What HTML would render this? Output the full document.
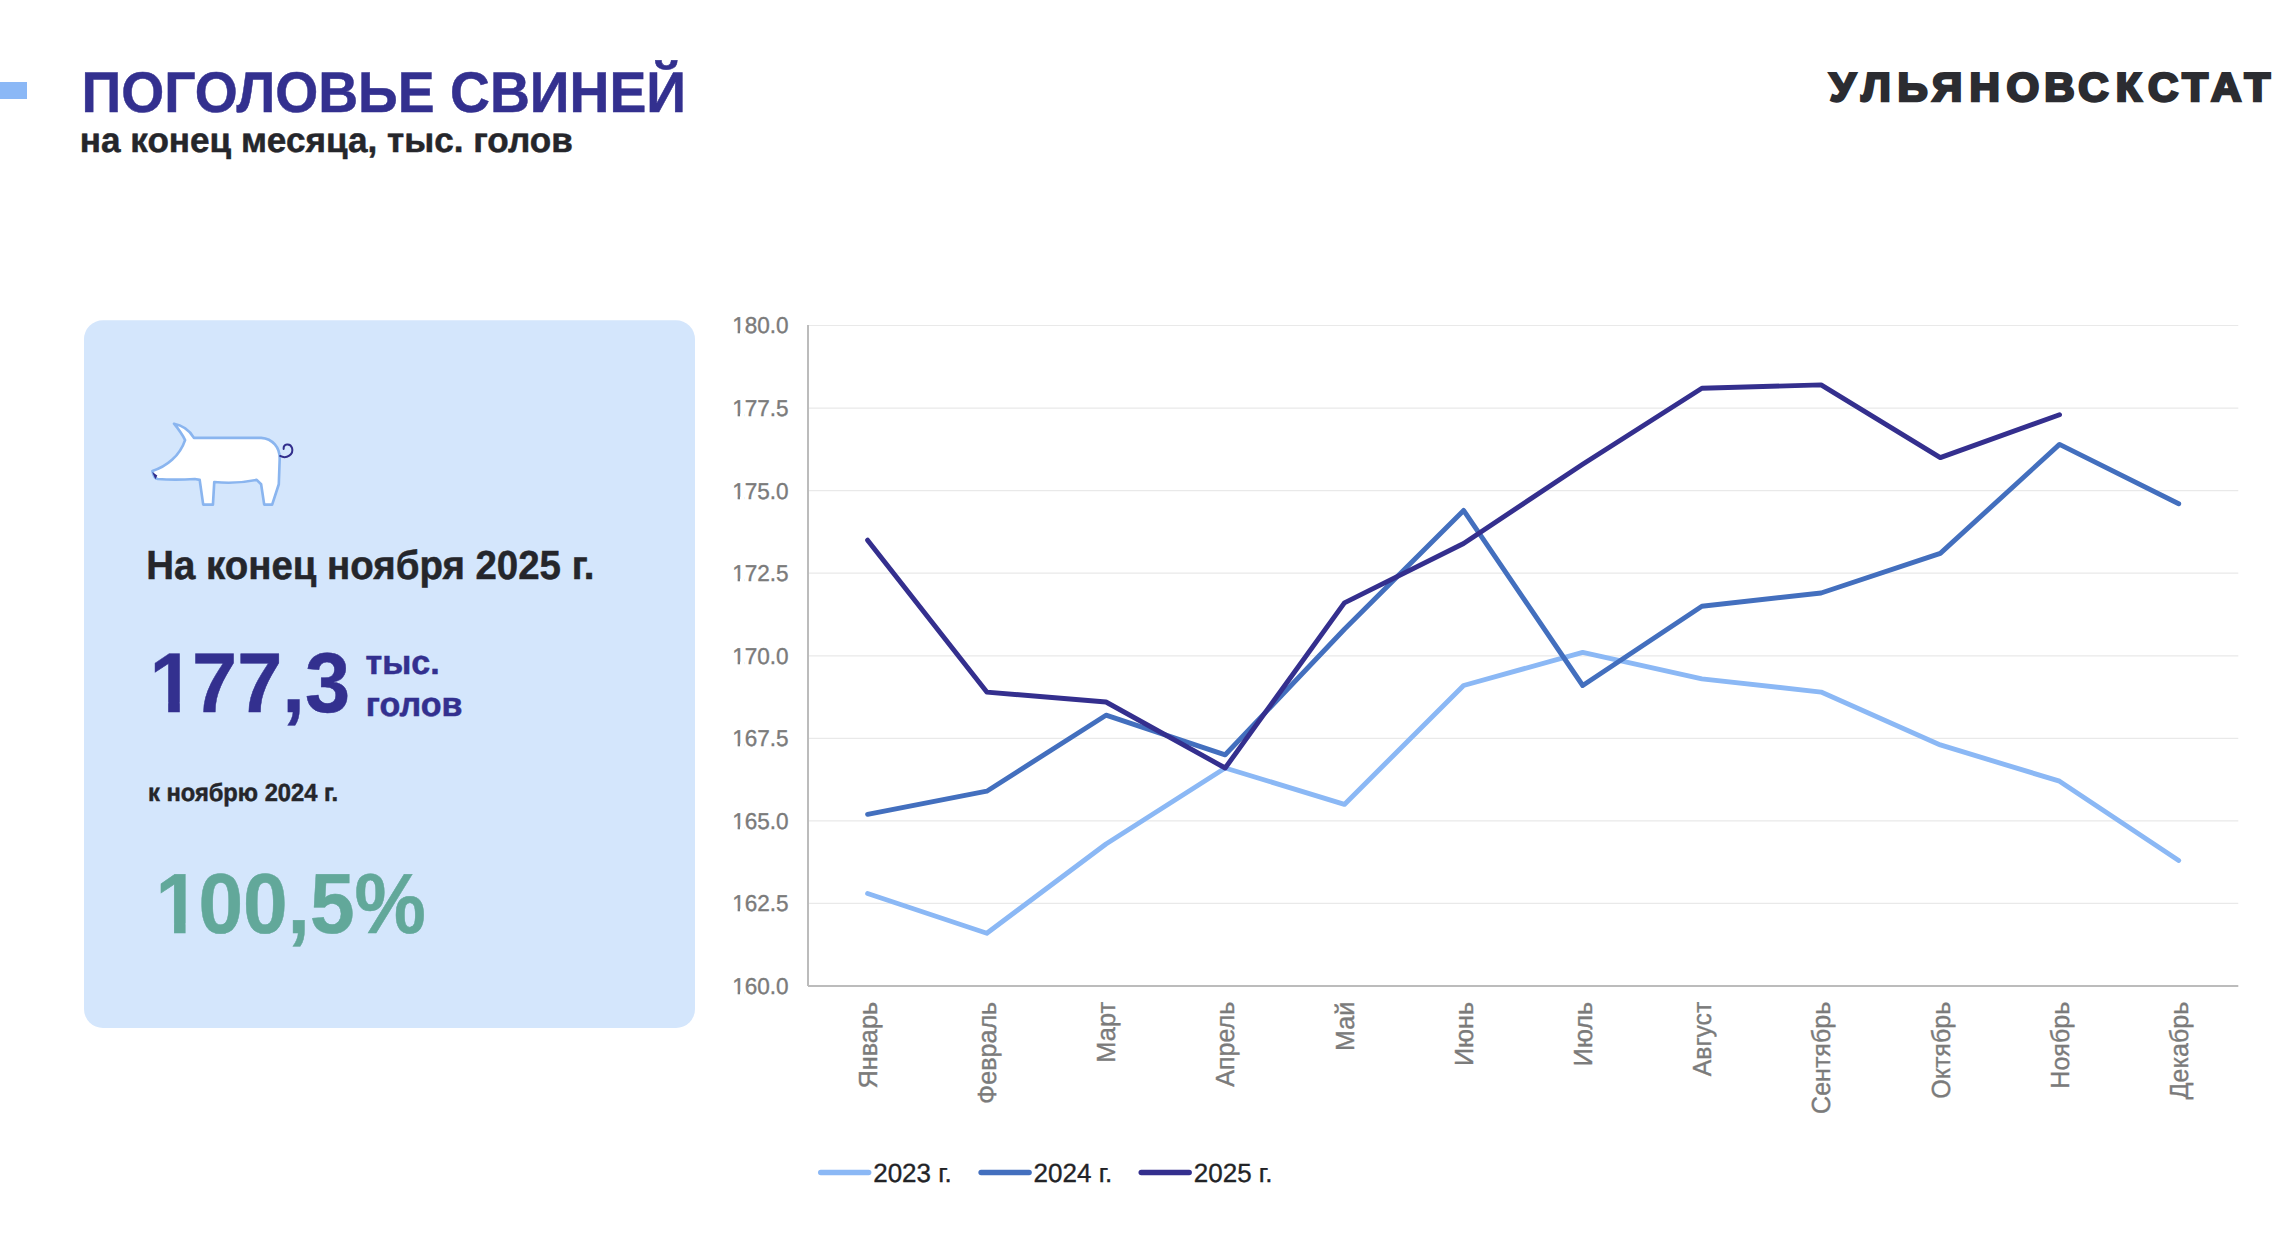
<!DOCTYPE html>
<html lang="ru"><head><meta charset="utf-8"><title>Поголовье свиней</title>
<style>
html,body{margin:0;padding:0;background:#fff;}
body{width:2290px;height:1244px;overflow:hidden;}
svg{display:block;}
text{font-family:"Liberation Sans",sans-serif;white-space:pre;text-rendering:geometricPrecision;}
.b{font-weight:bold;stroke-width:0.5px;}
.ind{fill:#33308f;stroke:#33308f;}
.dk{fill:#25262b;stroke:#25262b;}
.grn{fill:#62a89a;stroke:#62a89a;}
.logo{fill:#2b2c31;stroke:#2b2c31;stroke-width:2.6px;stroke-linejoin:miter;stroke-miterlimit:6;}
.ax{fill:#7b7b7b;stroke:#7b7b7b;stroke-width:0.35px;}
.lg{fill:#222326;stroke:#222326;stroke-width:0.35px;}
</style></head><body>
<svg width="2290" height="1244" viewBox="0 0 2290 1244">
<rect x="0" y="82" width="27" height="17" fill="#8bb8f6"/>
<text class="b ind" x="81.50" y="112.00" font-size="57.3" textLength="604.50" lengthAdjust="spacingAndGlyphs">ПОГОЛОВЬЕ СВИНЕЙ</text>
<text class="b dk" x="79.80" y="152.00" font-size="34.7" textLength="493.00" lengthAdjust="spacingAndGlyphs">на конец месяца, тыс. голов</text>
<text class="b logo" font-size="40.1" stroke-width="2.6" transform="translate(0,100.7) scale(1.05 1)" x="1742.29 1772.71 1807.1 1840.0 1875.62 1910.95 1946.81 1979.24 2014.9 2045.62 2078.24 2105.76 2137.57" y="0">УЛЬЯНОВСКСТАТ</text>
<rect x="84" y="320.3" width="611" height="707.7" rx="19" ry="19" fill="#d4e6fc"/>
<g transform="translate(140,410) scale(0.088404)">
<path d="M385 155 C470 170 560 230 610 315 L1370 315 C1500 325 1585 420 1580 560 L1570 840 L1495 1070 L1405 1070 L1370 840 L1320 790 C1180 820 1000 830 840 815 L825 1070 L715 1070 L675 790 L620 780 C480 790 320 790 200 780 C170 775 150 740 140 690 C300 640 450 520 510 340 C480 280 430 210 385 155 Z" fill="#fff" stroke="#8ab5ef" stroke-width="30" stroke-linejoin="round"/>
<path d="M1585 520 C1660 560 1740 500 1720 430 C1700 370 1620 380 1625 440" fill="none" stroke="#322e8c" stroke-width="23" stroke-linecap="round"/>
<path d="M138 700 L196 742 L174 782 Z" fill="#322e8c"/>
</g>
<text class="b dk" x="146.20" y="579.00" font-size="40.6" textLength="448.30" lengthAdjust="spacingAndGlyphs">На конец ноября 2025 г.</text>
<text class="b ind" font-size="84.8" transform="translate(147.00 711.90) scale(0.9566 1)"><tspan x="2.613">1</tspan><tspan x="47.172">77,3</tspan></text>
<rect x="153.11" y="702.40" width="15.07" height="10.75" fill="#d4e6fc"/>
<rect x="179.81" y="702.40" width="14.04" height="10.75" fill="#d4e6fc"/>
<text class="b ind" x="365.50" y="674.00" font-size="34.1">тыс.</text>
<text class="b ind" x="365.80" y="716.00" font-size="34.1">голов</text>
<text class="b dk" x="148.00" y="801.00" font-size="24.9" textLength="190.00" lengthAdjust="spacingAndGlyphs">к ноябрю 2024 г.</text>
<text class="b grn" font-size="85.3" transform="translate(153.00 933.10) scale(0.9402 1)"><tspan x="2.765">1</tspan><tspan x="48.304">00,5%</tspan></text>
<rect x="159.15" y="923.55" width="14.92" height="10.80" fill="#d4e6fc"/>
<rect x="185.57" y="923.55" width="13.90" height="10.80" fill="#d4e6fc"/>
<line x1="808.0" x2="2238.3" y1="325.5" y2="325.5" stroke="#e9e9e9" stroke-width="1.2"/>
<line x1="808.0" x2="2238.3" y1="408.1" y2="408.1" stroke="#e9e9e9" stroke-width="1.2"/>
<line x1="808.0" x2="2238.3" y1="490.6" y2="490.6" stroke="#e9e9e9" stroke-width="1.2"/>
<line x1="808.0" x2="2238.3" y1="573.2" y2="573.2" stroke="#e9e9e9" stroke-width="1.2"/>
<line x1="808.0" x2="2238.3" y1="655.8" y2="655.8" stroke="#e9e9e9" stroke-width="1.2"/>
<line x1="808.0" x2="2238.3" y1="738.3" y2="738.3" stroke="#e9e9e9" stroke-width="1.2"/>
<line x1="808.0" x2="2238.3" y1="820.9" y2="820.9" stroke="#e9e9e9" stroke-width="1.2"/>
<line x1="808.0" x2="2238.3" y1="903.4" y2="903.4" stroke="#e9e9e9" stroke-width="1.2"/>
<line x1="808.0" x2="808.0" y1="325.0" y2="986.0" stroke="#bcbcbc" stroke-width="2"/>
<line x1="808.0" x2="2238.3" y1="986.0" y2="986.0" stroke="#bcbcbc" stroke-width="2"/>
<text class="ax" x="0" y="333" font-size="22.9" text-anchor="end" transform="translate(788.6 0) scale(0.985 1)">180.0</text>
<rect x="732.37" y="330.74" width="5.28" height="3.91" fill="#fff"/>
<rect x="739.99" y="330.74" width="4.41" height="3.91" fill="#fff"/>
<text class="ax" x="0" y="416" font-size="22.9" text-anchor="end" transform="translate(788.6 0) scale(0.985 1)">177.5</text>
<rect x="732.37" y="413.74" width="5.28" height="3.91" fill="#fff"/>
<rect x="739.99" y="413.74" width="4.41" height="3.91" fill="#fff"/>
<text class="ax" x="0" y="499" font-size="22.9" text-anchor="end" transform="translate(788.6 0) scale(0.985 1)">175.0</text>
<rect x="732.37" y="496.74" width="5.28" height="3.91" fill="#fff"/>
<rect x="739.99" y="496.74" width="4.41" height="3.91" fill="#fff"/>
<text class="ax" x="0" y="581" font-size="22.9" text-anchor="end" transform="translate(788.6 0) scale(0.985 1)">172.5</text>
<rect x="732.37" y="578.74" width="5.28" height="3.91" fill="#fff"/>
<rect x="739.99" y="578.74" width="4.41" height="3.91" fill="#fff"/>
<text class="ax" x="0" y="664" font-size="22.9" text-anchor="end" transform="translate(788.6 0) scale(0.985 1)">170.0</text>
<rect x="732.37" y="661.74" width="5.28" height="3.91" fill="#fff"/>
<rect x="739.99" y="661.74" width="4.41" height="3.91" fill="#fff"/>
<text class="ax" x="0" y="746" font-size="22.9" text-anchor="end" transform="translate(788.6 0) scale(0.985 1)">167.5</text>
<rect x="732.37" y="743.74" width="5.28" height="3.91" fill="#fff"/>
<rect x="739.99" y="743.74" width="4.41" height="3.91" fill="#fff"/>
<text class="ax" x="0" y="829" font-size="22.9" text-anchor="end" transform="translate(788.6 0) scale(0.985 1)">165.0</text>
<rect x="732.37" y="826.74" width="5.28" height="3.91" fill="#fff"/>
<rect x="739.99" y="826.74" width="4.41" height="3.91" fill="#fff"/>
<text class="ax" x="0" y="911" font-size="22.9" text-anchor="end" transform="translate(788.6 0) scale(0.985 1)">162.5</text>
<rect x="732.37" y="908.74" width="5.28" height="3.91" fill="#fff"/>
<rect x="739.99" y="908.74" width="4.41" height="3.91" fill="#fff"/>
<text class="ax" x="0" y="994" font-size="22.9" text-anchor="end" transform="translate(788.6 0) scale(0.985 1)">160.0</text>
<rect x="732.37" y="991.74" width="5.28" height="3.91" fill="#fff"/>
<rect x="739.99" y="991.74" width="4.41" height="3.91" fill="#fff"/>
<text class="ax" font-size="26.2" transform="translate(876.8,1001.8) rotate(-90) scale(0.9671 1)" text-anchor="end">Январь</text>
<text class="ax" font-size="26.2" transform="translate(996.0,1001.8) rotate(-90) scale(0.959 1)" text-anchor="end">Февраль</text>
<text class="ax" font-size="26.2" transform="translate(1115.2,1001.8) rotate(-90) scale(0.9709 1)" text-anchor="end">Март</text>
<text class="ax" font-size="26.2" transform="translate(1234.4,1001.8) rotate(-90) scale(0.956 1)" text-anchor="end">Апрель</text>
<text class="ax" font-size="26.2" transform="translate(1353.6,1001.8) rotate(-90) scale(0.9587 1)" text-anchor="end">Май</text>
<text class="ax" font-size="26.2" transform="translate(1472.8,1001.8) rotate(-90) scale(0.9649 1)" text-anchor="end">Июнь</text>
<text class="ax" font-size="26.2" transform="translate(1591.9,1001.8) rotate(-90) scale(0.9635 1)" text-anchor="end">Июль</text>
<text class="ax" font-size="26.2" transform="translate(1711.1,1001.8) rotate(-90) scale(0.9429 1)" text-anchor="end">Август</text>
<text class="ax" font-size="26.2" transform="translate(1830.3,1001.8) rotate(-90) scale(0.9556 1)" text-anchor="end">Сентябрь</text>
<text class="ax" font-size="26.2" transform="translate(1949.5,1001.8) rotate(-90) scale(0.9553 1)" text-anchor="end">Октябрь</text>
<text class="ax" font-size="26.2" transform="translate(2068.7,1001.8) rotate(-90) scale(0.9559 1)" text-anchor="end">Ноябрь</text>
<text class="ax" font-size="26.2" transform="translate(2187.9,1001.8) rotate(-90) scale(0.9561 1)" text-anchor="end">Декабрь</text>
<polyline points="867.6,893.5 986.8,933.2 1106.0,844.0 1225.2,768.0 1344.4,804.4 1463.6,685.5 1582.7,652.4 1701.9,678.9 1821.1,692.1 1940.3,744.9 2059.5,781.2 2178.7,860.5" fill="none" stroke="#8bb8f5" stroke-width="4.9" stroke-linejoin="round" stroke-linecap="round"/>
<polyline points="867.6,814.3 986.8,791.2 1106.0,715.2 1225.2,754.8 1344.4,629.3 1463.6,510.4 1582.7,685.5 1701.9,606.2 1821.1,593.0 1940.3,553.4 2059.5,444.4 2178.7,503.8" fill="none" stroke="#436fbe" stroke-width="4.9" stroke-linejoin="round" stroke-linecap="round"/>
<polyline points="867.6,540.2 986.8,692.1 1106.0,702.0 1225.2,768.0 1344.4,602.9 1463.6,543.5 1582.7,464.2 1701.9,388.2 1821.1,384.9 1940.3,457.6 2059.5,414.7" fill="none" stroke="#342f8e" stroke-width="4.9" stroke-linejoin="round" stroke-linecap="round"/>
<line x1="820.75" x2="868.65" y1="1172.5" y2="1172.5" stroke="#8bb8f5" stroke-width="5.5" stroke-linecap="round"/>
<text class="lg" x="873.20" y="1182.00" font-size="26.3" textLength="78.60" lengthAdjust="spacingAndGlyphs">2023 г.</text>
<line x1="981.15" x2="1029.05" y1="1172.5" y2="1172.5" stroke="#436fbe" stroke-width="5.5" stroke-linecap="round"/>
<text class="lg" x="1033.60" y="1182.00" font-size="26.3" textLength="78.60" lengthAdjust="spacingAndGlyphs">2024 г.</text>
<line x1="1141.25" x2="1189.15" y1="1172.5" y2="1172.5" stroke="#342f8e" stroke-width="5.5" stroke-linecap="round"/>
<text class="lg" x="1193.80" y="1182.00" font-size="26.3" textLength="78.60" lengthAdjust="spacingAndGlyphs">2025 г.</text>
</svg>
</body></html>
